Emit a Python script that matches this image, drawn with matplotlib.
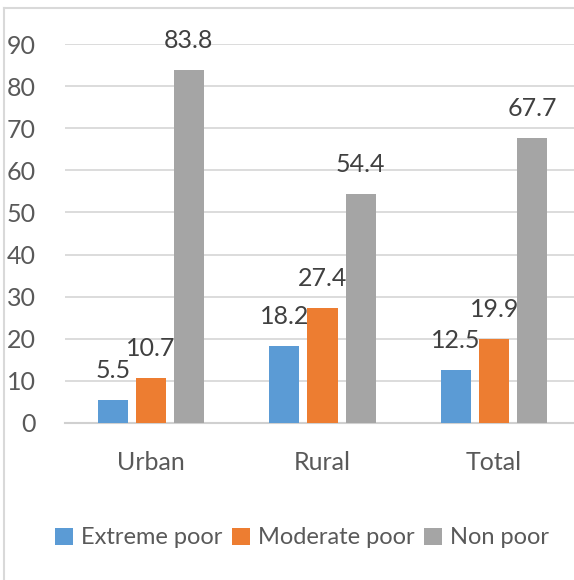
import matplotlib
matplotlib.use("Agg")
import matplotlib.pyplot as plt
from matplotlib.lines import Line2D
from matplotlib.patches import Patch
import numpy as np

categories = ["Urban", "Rural", "Total"]
series_names = ["Extreme poor", "Moderate poor", "Non poor"]
extreme_poor = [5.5, 18.2, 12.5]
moderate_poor = [10.7, 27.4, 19.9]
non_poor = [83.8, 54.4, 67.7]
yticks = [0, 10, 20, 30, 40, 50, 60, 70, 80, 90]

colors = ["#5B9BD5", "#ED7D31", "#A5A5A5"]
text_color = "#595959"
plt.rcParams['font.family'] = ['Lato', 'DejaVu Sans']

W, H = 574, 580
fig = plt.figure(figsize=(W / 100, H / 100), dpi=100)

def px(x0, y_top, x1, y_bot):
    return [x0 / W, 1 - y_bot / H, (x1 - x0) / W, (y_bot - y_top) / H]

ax = fig.add_axes(px(65, 44, 580, 423))
x = np.arange(len(categories))
bw = 0.175
step = 0.2216
for i, (vals, c, name) in enumerate(zip([extreme_poor, moderate_poor, non_poor], colors, series_names)):
    pos = x + (i - 1) * step
    bars = ax.bar(pos, vals, width=bw, color=c, label=name, zorder=3)
    for b, v in zip(bars, vals):
        ax.annotate(f"{v}", (b.get_x() + b.get_width() / 2, v), xytext=(0, 13),
                    textcoords="offset points", ha="center", va="bottom",
                    fontsize=18, color="#404040")

ax.set_xlim(-0.5, 2.5)
ax.set_ylim(0, 90)
ax.set_yticks(yticks)
ax.set_xticks(x)
ax.set_xticklabels(categories)
ax.grid(axis="y", color="#D9D9D9", linewidth=1.3, zorder=0)
for s in ["top", "right", "left"]:
    ax.spines[s].set_visible(False)
ax.spines["bottom"].set_color("#D0D0D0")
ax.spines["bottom"].set_linewidth(1.5)
ax.tick_params(axis="both", length=0, labelsize=18, labelcolor=text_color)
ax.tick_params(axis="y", pad=21)
ax.tick_params(axis="x", pad=20)

handles = [Patch(facecolor=c, edgecolor="none") for c in colors]
fig.legend(handles, series_names, loc="center", bbox_to_anchor=(302 / W, 1 - 538 / H),
           ncol=3, frameon=False, fontsize=17, handlelength=0.75, handleheight=0.75,
           handletextpad=0.35, columnspacing=0.4, labelcolor=text_color)

# outer chart border (left and top visible)
fig.add_artist(Line2D([4 / W, 4 / W], [0, 1 - 8 / H], color="#D9D9D9", linewidth=1.5, transform=fig.transFigure))
fig.add_artist(Line2D([4 / W, 1], [1 - 8 / H, 1 - 8 / H], color="#D9D9D9", linewidth=1.5, transform=fig.transFigure))

fig.savefig("out.png", dpi=100)
